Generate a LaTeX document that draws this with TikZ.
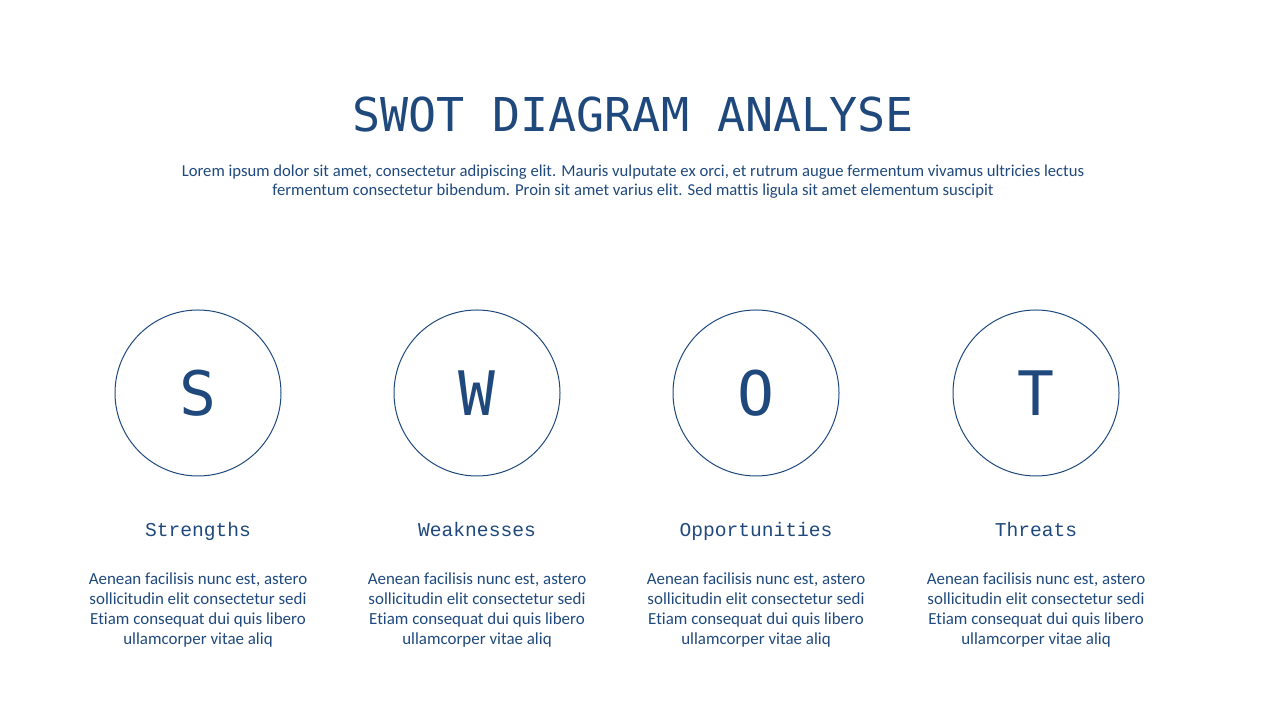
\documentclass[tikz,border=0pt]{standalone}
\usepackage{fontspec}
\setmainfont{Carlito}[Ligatures={NoCommon}]
\newfontfamily\titlefont{DejaVu Sans Mono}
\newfontfamily\headfont{Liberation Mono}
\usetikzlibrary{positioning}
\definecolor{swotblue}{RGB}{31, 73, 125}

\begin{document}
\begin{tikzpicture}[
    x=0.75pt, y=0.75pt,
    node distance=38.5pt and 0pt, % Vertical and Horizontal
    % Styles
    titletext/.style={
        font=\titlefont\fontsize{35}{40}\selectfont,
        text=swotblue,
        inner sep=0pt
    },
    subtext/.style={
        font=\fontsize{12.5}{14.4}\selectfont,
        text=swotblue,
        align=center,
        inner sep=0pt
    },
    lettercircle/.style={
        circle,
        draw=swotblue,
        line width=0.75pt,
        minimum size=124.5pt,
        inner sep=0pt,
        text=swotblue,
        font=\titlefont\fontsize{46}{50}\selectfont
    },
    headtext/.style={
        font=\headfont\fontsize{14.7}{16}\selectfont,
        text=swotblue,
        text height=0.62em,
        text depth=0.2em,
        inner sep=0pt
    },
    bodytext/.style={
        font=\fontsize{12.7}{15}\selectfont,
        text=swotblue,
        align=center,
        inner sep=0pt
    }
]
\useasboundingbox (0,0) rectangle (1280,720);

% --- Heading ---
\node (title) [titletext] at (633,605) {SWOT DIAGRAM ANALYSE};
\node (intro) [subtext, below=24pt of title] {Lorem ipsum dolor sit amet, consectetur adipiscing elit. Mauris vulputate ex orci, et rutrum augue fermentum vivamus ultricies lectus\\
    fermentum consectetur bibendum. Proin sit amet varius elit. Sed mattis ligula sit amet elementum suscipit};

% --- Circles ---
\node (s_circle) [lettercircle] at (198,327) {S};
\node (w_circle) [lettercircle] at (477,327) {W};
\node (o_circle) [lettercircle] at (756,327) {O};
\node (t_circle) [lettercircle] at (1036,327) {T};

% --- Headings under circles ---
\node (s_head) [headtext, below=of s_circle] {Strengths};
\node (w_head) [headtext, below=of w_circle] {Weaknesses};
\node (o_head) [headtext, below=of o_circle] {Opportunities};
\node (t_head) [headtext, below=of t_circle] {Threats};

% --- Body texts ---
\node (s_body) [bodytext, below=25pt of s_head.south] {Aenean facilisis nunc est, astero\\ sollicitudin elit consectetur sedi\\ Etiam consequat dui quis libero\\ ullamcorper vitae aliq};
\node (w_body) [bodytext, below=25pt of w_head.south] {Aenean facilisis nunc est, astero\\ sollicitudin elit consectetur sedi\\ Etiam consequat dui quis libero\\ ullamcorper vitae aliq};
\node (o_body) [bodytext, below=25pt of o_head.south] {Aenean facilisis nunc est, astero\\ sollicitudin elit consectetur sedi\\ Etiam consequat dui quis libero\\ ullamcorper vitae aliq};
\node (t_body) [bodytext, below=25pt of t_head.south] {Aenean facilisis nunc est, astero\\ sollicitudin elit consectetur sedi\\ Etiam consequat dui quis libero\\ ullamcorper vitae aliq};

\end{tikzpicture}
\end{document}
